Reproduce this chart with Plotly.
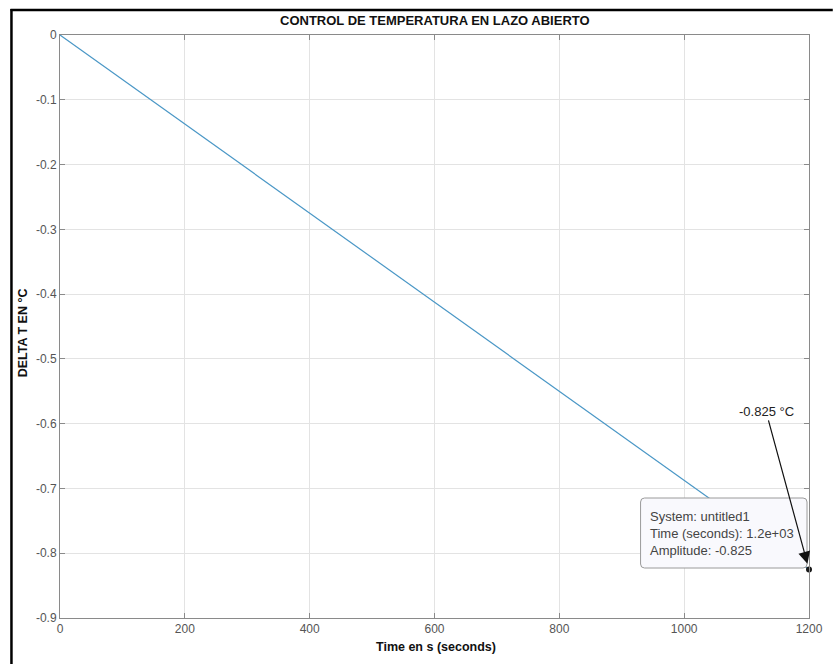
import plotly.graph_objects as go

# ---- data ----
time_s = [0, 1200]
amplitude = [0, -0.825]
x_ticks = [0, 200, 400, 600, 800, 1000, 1200]
x_tick_labels = ["0", "200", "400", "600", "800", "1000", "1200"]
y_ticks = [0, -0.1, -0.2, -0.3, -0.4, -0.5, -0.6, -0.7, -0.8, -0.9]
y_tick_labels = ["0", "-0.1", "-0.2", "-0.3", "-0.4", "-0.5", "-0.6", "-0.7", "-0.8", "-0.9"]
tip_time = 1200
tip_amp = -0.825
tip_lines = ["System: untitled1", "Time (seconds): 1.2e+03", "Amplitude: -0.825"]
arrow_label = "-0.825 °C"
title_text = "CONTROL DE TEMPERATURA EN LAZO ABIERTO"
x_title = "Time en s (seconds)"
y_title = "DELTA T EN °C"

W, H = 835, 664
L, R, T, B = 60, 19, 35, 46
PW, PH = W - L - R, H - T - B
XMIN, XMAX = 0, 1200
YMIN, YMAX = -0.9, 0
FONT = "Liberation Sans, Arial, sans-serif"


def px2x(px):
    return XMIN + (px - L) / PW * (XMAX - XMIN)


def py2y(py):
    return YMAX - (py - T) / PH * (YMAX - YMIN)


def px2paper(px):
    return (px - L) / PW


def py2paper(py):
    return (H - B - py) / PH


fig = go.Figure()
fig.add_trace(go.Scatter(x=time_s, y=amplitude, mode="lines",
                         line=dict(color="#4a97c6", width=1.2),
                         hoverinfo="skip", showlegend=False))

axis_common = dict(showgrid=True, gridcolor="#e3e3e3", gridwidth=1,
                   zeroline=False, showline=True, linecolor="#8a8a8a",
                   linewidth=1, mirror="ticks", ticks="inside", ticklen=5,
                   tickcolor="#8a8a8a",
                   tickfont=dict(family=FONT, size=12, color="#555555"))

fig.update_layout(
    width=W, height=H,
    margin=dict(l=L, r=R, t=T, b=B, pad=0),
    paper_bgcolor="white", plot_bgcolor="white",
    xaxis=dict(range=[XMIN, XMAX], tickvals=x_ticks, ticktext=x_tick_labels, **axis_common),
    yaxis=dict(range=[YMIN, YMAX], tickvals=y_ticks, ticktext=y_tick_labels, **axis_common),
    showlegend=False,
)

shapes = []
# frame (screenshot border)
shapes.append(dict(type="line", xref="paper", yref="paper",
                   x0=px2paper(10), x1=px2paper(W + 5), y0=py2paper(10), y1=py2paper(10),
                   line=dict(color="black", width=2.5)))
shapes.append(dict(type="line", xref="paper", yref="paper",
                   x0=px2paper(11), x1=px2paper(11), y0=py2paper(9), y1=py2paper(H + 5),
                   line=dict(color="black", width=2.5)))

# datatip box with rounded corners
bx0, bx1, by0, by1, r = 646, 814, 498, 568, 4
xa, xb = px2x(bx0), px2x(bx1)
ya, yb = py2y(by0), py2y(by1)
rx = px2x(bx0 + r) - xa
ry = py2y(by0) - py2y(by0 + r)
path = (f"M {xa + rx},{ya} L {xb - rx},{ya} Q {xb},{ya} {xb},{ya - ry} "
        f"L {xb},{yb + ry} Q {xb},{yb} {xb - rx},{yb} "
        f"L {xa + rx},{yb} Q {xa},{yb} {xa},{yb + ry} "
        f"L {xa},{ya - ry} Q {xa},{ya} {xa + rx},{ya} Z")
shapes.append(dict(type="path", xref="x", yref="y", path=path,
                   fillcolor="#f9f9fd", line=dict(color="#9a9a9a", width=1), layer="above"))
fig.update_layout(shapes=shapes)

# data tip text
fig.add_annotation(x=px2x(653), y=py2y(507), xref="x", yref="y",
                   text="<br>".join(tip_lines), showarrow=False,
                   xanchor="left", yanchor="top", align="left",
                   font=dict(family=FONT, size=13, color="#444444"))

# data point marker
fig.add_trace(go.Scatter(x=[tip_time], y=[tip_amp], mode="markers",
                         marker=dict(color="#1a1a1a", size=6),
                         cliponaxis=False, hoverinfo="skip", showlegend=False))

# arrow annotation
fig.add_annotation(x=tip_time, y=tip_amp, xref="x", yref="y",
                   text=arrow_label, showarrow=True,
                   ax=-43, ay=-158, arrowhead=2, arrowsize=2, arrowwidth=1.2,
                   arrowcolor="#111111", standoff=6,
                   font=dict(family=FONT, size=13, color="#222222"))

# title
fig.add_annotation(x=px2paper(438), y=py2paper(20), xref="paper", yref="paper",
                   text=f"<b>{title_text}</b>", showarrow=False,
                   xanchor="center", yanchor="middle",
                   font=dict(family=FONT, size=13, color="#111111"))
# axis titles
fig.add_annotation(x=px2paper(440), y=py2paper(647), xref="paper", yref="paper",
                   text=f"<b>{x_title}</b>", showarrow=False,
                   xanchor="center", yanchor="middle",
                   font=dict(family=FONT, size=12.5, color="#111111"))
fig.add_annotation(x=px2paper(23), y=py2paper(333), xref="paper", yref="paper",
                   text=f"<b>{y_title}</b>", showarrow=False, textangle=-90,
                   xanchor="center", yanchor="middle",
                   font=dict(family=FONT, size=12.5, color="#111111"))

fig.write_html("out.html",
               config={"displayModeBar": False},
               post_script="document.body.style.margin='0';document.body.style.overflow='hidden';")
